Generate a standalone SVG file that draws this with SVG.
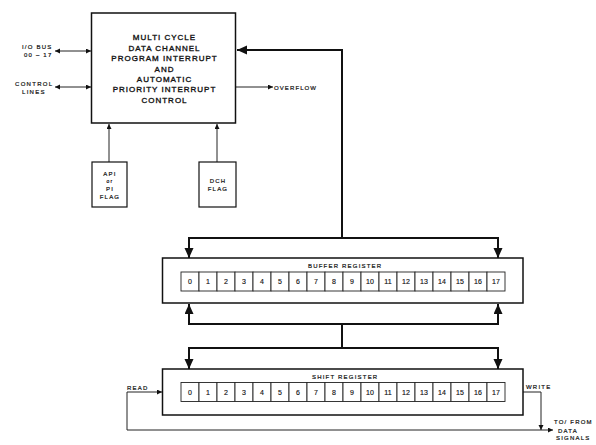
<svg xmlns="http://www.w3.org/2000/svg" width="596" height="445" viewBox="0 0 596 445">
<defs>
<style>
.box{fill:#fff;stroke:#111;stroke-width:1.5}
.cell{fill:#fff;stroke:#222;stroke-width:0.9}
.thin{fill:none;stroke:#222;stroke-width:1}
.thick{fill:none;stroke:#111;stroke-width:2}
text{font-family:"Liberation Sans",Arial,sans-serif;fill:#111;stroke:#111}
.big{font-size:8px;letter-spacing:1px;text-anchor:middle;stroke-width:0.35}
.sm{font-size:6px;letter-spacing:1.2px;stroke-width:0.2}
.num{font-size:7px;text-anchor:middle;stroke-width:0.15}
.mid{text-anchor:middle}
</style>
<marker id="ah" markerUnits="userSpaceOnUse" markerWidth="10" markerHeight="10" refX="5" refY="2.5" orient="auto">
<path d="M0,0 L5,2.5 L0,5 z" fill="#111"/>
</marker>
<marker id="as" markerUnits="userSpaceOnUse" markerWidth="10" markerHeight="10" refX="5" refY="2.5" orient="auto-start-reverse">
<path d="M0,0 L5,2.5 L0,5 z" fill="#111"/>
</marker>
<marker id="AH" markerUnits="userSpaceOnUse" markerWidth="12" markerHeight="12" refX="10" refY="4.5" orient="auto">
<path d="M0,0 L10,4.5 L0,9 z" fill="#111"/>
</marker>
</defs>
<rect width="596" height="445" fill="#fff"/>

<g id="connectors">
<line class="thin" x1="55" y1="51" x2="91" y2="51" marker-start="url(#as)" marker-end="url(#ah)"/>
<line class="thin" x1="55" y1="87" x2="91" y2="87" marker-start="url(#as)" marker-end="url(#ah)"/>
<line class="thin" x1="236" y1="87" x2="273" y2="87" marker-end="url(#ah)"/>
<line class="thin" x1="109" y1="162" x2="109" y2="124" marker-end="url(#ah)"/>
<line class="thin" x1="217" y1="162" x2="217" y2="124" marker-end="url(#ah)"/>
<polyline class="thick" points="342,238 342,50 237,50" marker-end="url(#AH)"/>
<line class="thick" x1="189" y1="238" x2="498" y2="238"/>
<polyline class="thick" points="190,238 189,238 189,258" marker-end="url(#AH)"/>
<polyline class="thick" points="497,238 498,238 498,258" marker-end="url(#AH)"/>
<polyline class="thick" points="190,324 189,324 189,304" marker-end="url(#AH)"/>
<polyline class="thick" points="497,324 498,324 498,304" marker-end="url(#AH)"/>
<line class="thick" x1="189" y1="324" x2="498" y2="324"/>
<line class="thick" x1="342" y1="324" x2="342" y2="348"/>
<line class="thick" x1="189" y1="348" x2="498" y2="348"/>
<polyline class="thick" points="190,348 189,348 189,369" marker-end="url(#AH)"/>
<polyline class="thick" points="497,348 498,348 498,369" marker-end="url(#AH)"/>
<polyline class="thin" points="127,430 127,392 162,392" marker-end="url(#ah)"/>
<line class="thin" x1="127" y1="430" x2="553" y2="430" marker-end="url(#ah)"/>
<polyline class="thin" points="523,392 541,392 541,430" marker-end="url(#ah)"/>
</g>

<g id="labels">
<text class="sm" x="22" y="49">I/O BUS</text>
<text class="sm" x="24" y="57">00 – 17</text>
<text class="sm" x="15" y="86" style="letter-spacing:1.3px">CONTROL</text>
<text class="sm" x="22" y="94" style="letter-spacing:1.3px">LINES</text>
<text class="sm" x="274" y="89.5" style="letter-spacing:1.1px">OVERFLOW</text>
<text class="sm" x="127" y="389.5">READ</text>
<text class="sm" x="526" y="388.5">WRITE</text>
<text class="sm" x="554" y="423.5">TO/ FROM</text>
<text class="sm" x="558" y="432.5">DATA</text>
<text class="sm" x="556" y="440">SIGNALS</text>
</g>

<g id="main">
<rect class="box" x="91.5" y="13" width="144" height="110"/>
<text class="big" x="164.5" y="40">MULTI CYCLE</text>
<text class="big" x="164.5" y="50.5">DATA CHANNEL</text>
<text class="big" x="164.5" y="61">PROGRAM INTERRUPT</text>
<text class="big" x="164.5" y="71.5">AND</text>
<text class="big" x="164.5" y="82">AUTOMATIC</text>
<text class="big" x="164.5" y="92">PRIORITY INTERRUPT</text>
<text class="big" x="164.5" y="102.5">CONTROL</text>
</g>

<g id="api-flag">
<rect class="box" x="92" y="162" width="35" height="45" style="stroke-width:1.2"/>
<text class="sm mid" x="110" y="175.5">API</text>
<text class="sm mid" x="110" y="182.5" style="font-size:5px">or</text>
<text class="sm mid" x="110" y="190.5">PI</text>
<text class="sm mid" x="110" y="199">FLAG</text>
</g>

<g id="dch-flag">
<rect class="box" x="199" y="162" width="37" height="45" style="stroke-width:1.2"/>
<text class="sm mid" x="218" y="182.5">DCH</text>
<text class="sm mid" x="218" y="190.5">FLAG</text>
</g>

<g id="buffer-register">
<rect class="box" x="162.5" y="258" width="360.5" height="45"/>
<text class="sm" x="308" y="267.5">BUFFER REGISTER</text>
<g>
<rect class="cell" x="181" y="272" width="18" height="19"/>
<rect class="cell" x="199" y="272" width="18" height="19"/>
<rect class="cell" x="217" y="272" width="18" height="19"/>
<rect class="cell" x="235" y="272" width="18" height="19"/>
<rect class="cell" x="253" y="272" width="18" height="19"/>
<rect class="cell" x="271" y="272" width="18" height="19"/>
<rect class="cell" x="289" y="272" width="18" height="19"/>
<rect class="cell" x="307" y="272" width="18" height="19"/>
<rect class="cell" x="325" y="272" width="18" height="19"/>
<rect class="cell" x="343" y="272" width="18" height="19"/>
<rect class="cell" x="361" y="272" width="18" height="19"/>
<rect class="cell" x="379" y="272" width="18" height="19"/>
<rect class="cell" x="397" y="272" width="18" height="19"/>
<rect class="cell" x="415" y="272" width="18" height="19"/>
<rect class="cell" x="433" y="272" width="18" height="19"/>
<rect class="cell" x="451" y="272" width="18" height="19"/>
<rect class="cell" x="469" y="272" width="18" height="19"/>
<rect class="cell" x="487" y="272" width="18" height="19"/>
</g>
<g>
<text class="num" x="190" y="284">0</text>
<text class="num" x="208" y="284">1</text>
<text class="num" x="226" y="284">2</text>
<text class="num" x="244" y="284">3</text>
<text class="num" x="262" y="284">4</text>
<text class="num" x="280" y="284">5</text>
<text class="num" x="298" y="284">6</text>
<text class="num" x="316" y="284">7</text>
<text class="num" x="334" y="284">8</text>
<text class="num" x="352" y="284">9</text>
<text class="num" x="370" y="284">10</text>
<text class="num" x="388" y="284">11</text>
<text class="num" x="406" y="284">12</text>
<text class="num" x="424" y="284">13</text>
<text class="num" x="442" y="284">14</text>
<text class="num" x="460" y="284">15</text>
<text class="num" x="478" y="284">16</text>
<text class="num" x="496" y="284">17</text>
</g>
</g>

<g id="shift-register">
<rect class="box" x="162.5" y="369" width="360.5" height="46"/>
<text class="sm" x="312" y="378.5">SHIFT REGISTER</text>
<g>
<rect class="cell" x="181" y="382.5" width="18" height="19"/>
<rect class="cell" x="199" y="382.5" width="18" height="19"/>
<rect class="cell" x="217" y="382.5" width="18" height="19"/>
<rect class="cell" x="235" y="382.5" width="18" height="19"/>
<rect class="cell" x="253" y="382.5" width="18" height="19"/>
<rect class="cell" x="271" y="382.5" width="18" height="19"/>
<rect class="cell" x="289" y="382.5" width="18" height="19"/>
<rect class="cell" x="307" y="382.5" width="18" height="19"/>
<rect class="cell" x="325" y="382.5" width="18" height="19"/>
<rect class="cell" x="343" y="382.5" width="18" height="19"/>
<rect class="cell" x="361" y="382.5" width="18" height="19"/>
<rect class="cell" x="379" y="382.5" width="18" height="19"/>
<rect class="cell" x="397" y="382.5" width="18" height="19"/>
<rect class="cell" x="415" y="382.5" width="18" height="19"/>
<rect class="cell" x="433" y="382.5" width="18" height="19"/>
<rect class="cell" x="451" y="382.5" width="18" height="19"/>
<rect class="cell" x="469" y="382.5" width="18" height="19"/>
<rect class="cell" x="487" y="382.5" width="18" height="19"/>
</g>
<g>
<text class="num" x="190" y="394.5">0</text>
<text class="num" x="208" y="394.5">1</text>
<text class="num" x="226" y="394.5">2</text>
<text class="num" x="244" y="394.5">3</text>
<text class="num" x="262" y="394.5">4</text>
<text class="num" x="280" y="394.5">5</text>
<text class="num" x="298" y="394.5">6</text>
<text class="num" x="316" y="394.5">7</text>
<text class="num" x="334" y="394.5">8</text>
<text class="num" x="352" y="394.5">9</text>
<text class="num" x="370" y="394.5">10</text>
<text class="num" x="388" y="394.5">11</text>
<text class="num" x="406" y="394.5">12</text>
<text class="num" x="424" y="394.5">13</text>
<text class="num" x="442" y="394.5">14</text>
<text class="num" x="460" y="394.5">15</text>
<text class="num" x="478" y="394.5">16</text>
<text class="num" x="496" y="394.5">17</text>
</g>
</g>
</svg>
